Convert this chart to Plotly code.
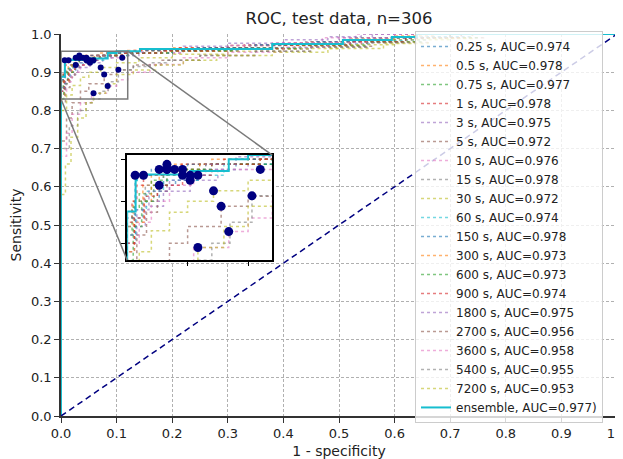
import plotly.graph_objects as go

# ---------------- data ----------------
series_labels = ["0.25 s", "0.5 s", "0.75 s", "1 s", "3 s", "5 s", "10 s", "15 s", "30 s", "60 s",
                 "150 s", "300 s", "600 s", "900 s", "1800 s", "2700 s", "3600 s", "5400 s", "7200 s"]
series_auc = ["0.974", "0.978", "0.977", "0.978", "0.975", "0.972", "0.976", "0.978", "0.972", "0.974",
              "0.978", "0.973", "0.973", "0.974", "0.975", "0.956", "0.958", "0.955", "0.953"]
ensemble_label = "ensemble, AUC=0.977)"

fpr_s0 = [0, 0, 0.007, 0.013, 0.0265, 0.04, 0.06, 0.09, 0.13, 0.2, 0.32, 0.45, 0.56, 0.66, 0.74, 1]
tpr_s0 = [0, 0.85, 0.88, 0.9, 0.919, 0.925, 0.938, 0.944, 0.95, 0.957, 0.964, 0.974, 0.984, 0.993, 1.0, 1]
fpr_s1 = [0, 0, 0.005, 0.013, 0.02, 0.0329, 0.07, 0.12, 0.2, 0.3, 0.42, 0.52, 0.6, 0.67, 1]
tpr_s1 = [0, 0.87, 0.9, 0.919, 0.931, 0.944, 0.95, 0.957, 0.964, 0.97, 0.977, 0.987, 0.995, 1.0, 1]
fpr_s2 = [0, 0, 0.004, 0.01, 0.02, 0.03, 0.0392, 0.065, 0.1, 0.16, 0.26, 0.38, 0.5, 0.6, 0.7, 1]
tpr_s2 = [0, 0.86, 0.893, 0.909, 0.925, 0.931, 0.938, 0.944, 0.95, 0.957, 0.964, 0.971, 0.98, 0.99, 1.0, 1]
fpr_s3 = [0, 0, 0.004, 0.008, 0.0135, 0.03, 0.045, 0.08, 0.13, 0.21, 0.33, 0.45, 0.55, 0.65, 1]
tpr_s3 = [0, 0.875, 0.9, 0.919, 0.931, 0.938, 0.944, 0.95, 0.957, 0.964, 0.971, 0.98, 0.99, 1.0, 1]
fpr_s4 = [0, 0, 0.006, 0.015, 0.03, 0.0521, 0.075, 0.1, 0.14, 0.22, 0.3, 0.4, 0.5, 0.56, 1]
tpr_s4 = [0, 0.84, 0.87, 0.894, 0.912, 0.925, 0.938, 0.944, 0.95, 0.96, 0.97, 0.977, 0.99, 1.0, 1]
fpr_s5 = [0, 0, 0.008, 0.016, 0.025, 0.0329, 0.06, 0.11, 0.2, 0.32, 0.45, 0.56, 0.66, 0.76, 1]
tpr_s5 = [0, 0.82, 0.86, 0.887, 0.912, 0.938, 0.944, 0.95, 0.955, 0.961, 0.968, 0.978, 0.99, 1.0, 1]
fpr_s6 = [0, 0, 0.01, 0.02, 0.035, 0.055, 0.07, 0.12, 0.22, 0.3, 0.38, 0.47, 0.53, 1]
tpr_s6 = [0, 0.85, 0.875, 0.9, 0.919, 0.931, 0.938, 0.95, 0.96, 0.97, 0.977, 0.99, 1.0, 1]
fpr_s7 = [0, 0, 0.006, 0.015, 0.03, 0.0458, 0.07, 0.1, 0.15, 0.24, 0.34, 0.44, 0.53, 0.62, 1]
tpr_s7 = [0, 0.87, 0.9, 0.919, 0.931, 0.938, 0.944, 0.95, 0.957, 0.964, 0.971, 0.98, 0.99, 1.0, 1]
fpr_s8 = [0, 0, 0.01, 0.02, 0.035, 0.05, 0.0714, 0.1, 0.14, 0.2, 0.3, 0.4, 0.5, 0.6, 0.7, 1]
tpr_s8 = [0, 0.8, 0.84, 0.865, 0.887, 0.9, 0.9125, 0.925, 0.938, 0.947, 0.955, 0.962, 0.972, 0.985, 1.0, 1]
fpr_s9 = [0, 0, 0.007, 0.016, 0.03, 0.0585, 0.08, 0.12, 0.2, 0.3, 0.42, 0.52, 0.62, 0.72, 1]
tpr_s9 = [0, 0.86, 0.89, 0.912, 0.925, 0.931, 0.944, 0.95, 0.957, 0.964, 0.972, 0.982, 0.992, 1.0, 1]
fpr_s10 = [0, 0, 0.0066, 0.02, 0.05, 0.09, 0.15, 0.24, 0.35, 0.46, 0.56, 0.64, 1]
tpr_s10 = [0, 0.88, 0.931, 0.938, 0.944, 0.95, 0.957, 0.964, 0.972, 0.98, 0.99, 1.0, 1]
fpr_s11 = [0, 0, 0.006, 0.014, 0.02, 0.0265, 0.06, 0.11, 0.19, 0.3, 0.42, 0.54, 0.64, 0.74, 1]
tpr_s11 = [0, 0.84, 0.875, 0.9, 0.919, 0.938, 0.944, 0.95, 0.955, 0.962, 0.97, 0.98, 0.99, 1.0, 1]
fpr_s12 = [0, 0, 0.005, 0.012, 0.022, 0.0329, 0.07, 0.12, 0.2, 0.31, 0.43, 0.55, 0.65, 0.75, 1]
tpr_s12 = [0, 0.83, 0.87, 0.9, 0.919, 0.938, 0.944, 0.95, 0.956, 0.962, 0.97, 0.98, 0.99, 1.0, 1]
fpr_s13 = [0, 0, 0.006, 0.014, 0.025, 0.0458, 0.07, 0.11, 0.18, 0.28, 0.4, 0.52, 0.62, 0.72, 1]
tpr_s13 = [0, 0.85, 0.88, 0.906, 0.919, 0.931, 0.944, 0.95, 0.956, 0.963, 0.971, 0.98, 0.99, 1.0, 1]
fpr_s14 = [0, 0, 0.008, 0.018, 0.035, 0.0521, 0.065, 0.09, 0.15, 0.22, 0.3, 0.4, 0.48, 0.54, 1]
tpr_s14 = [0, 0.86, 0.89, 0.912, 0.925, 0.931, 0.944, 0.953, 0.96, 0.968, 0.976, 0.985, 0.993, 1.0, 1]
fpr_s15 = [0, 0, 0.01, 0.02, 0.035, 0.05, 0.0777, 0.1, 0.13, 0.18, 0.25, 0.35, 0.45, 0.55, 0.62, 0.7, 1]
tpr_s15 = [0, 0.72, 0.78, 0.82, 0.85, 0.87, 0.894, 0.906, 0.919, 0.931, 0.944, 0.955, 0.965, 0.978, 0.99, 1.0, 1]
fpr_s16 = [0, 0, 0.01, 0.02, 0.035, 0.055, 0.084, 0.1, 0.12, 0.16, 0.22, 0.3, 0.4, 0.48, 0.55, 0.6, 1]
tpr_s16 = [0, 0.68, 0.74, 0.79, 0.82, 0.845, 0.864, 0.88, 0.9, 0.92, 0.938, 0.952, 0.965, 0.978, 0.99, 1.0, 1]
fpr_s17 = [0, 0, 0.015, 0.03, 0.045, 0.058, 0.07, 0.085, 0.1032, 0.13, 0.16, 0.19, 0.25, 0.35, 0.45, 0.55, 0.63, 0.7, 1]
tpr_s17 = [0, 0.7, 0.76, 0.8, 0.82, 0.83, 0.85, 0.875, 0.9065, 0.915, 0.925, 0.931, 0.944, 0.955, 0.966, 0.978, 0.99, 1.0, 1]
fpr_s18 = [0, 0, 0.008, 0.018, 0.03, 0.045, 0.0585, 0.08, 0.1, 0.13, 0.17, 0.22, 0.28, 0.38, 0.48, 0.58, 0.66, 0.74, 1]
tpr_s18 = [0, 0.58, 0.66, 0.73, 0.78, 0.82, 0.845, 0.87, 0.894, 0.906, 0.919, 0.931, 0.944, 0.952, 0.962, 0.975, 0.988, 1.0, 1]
fpr_ens = [0, 0, 0.007, 0.008, 0.052, 0.084, 0.1, 0.142, 0.38, 0.507, 0.595, 0.64, 1]
tpr_ens = [0, 0.888, 0.925, 0.932, 0.936, 0.95, 0.955, 0.961, 0.974, 0.984, 0.992, 1.0, 1]

# operating points (navy dots)
op_fpr = [0.0265, 0.0329, 0.0392, 0.0135, 0.0521, 0.0329, 0.1101, 0.0458, 0.0714, 0.0585,
          0.0066, 0.0265, 0.0329, 0.0458, 0.0521, 0.0777, 0.084, 0.1032, 0.0585]
op_tpr = [0.919, 0.944, 0.938, 0.931, 0.925, 0.938, 0.938, 0.938, 0.9125, 0.931,
          0.931, 0.938, 0.938, 0.931, 0.931, 0.894, 0.864, 0.9065, 0.845]

chance_x = [0, 1]
chance_y = [0, 1]

main_ticks = [0.0, 0.1, 0.2, 0.3, 0.4, 0.5, 0.6, 0.7, 0.8, 0.9, 1.0]
zoom_x_range = [0.0, 0.12]
zoom_y_range = [0.83, 0.955]
inset_x_dom = [0.119, 0.380]
inset_y_dom = [0.408, 0.683]

curves = [(fpr_s0, tpr_s0), (fpr_s1, tpr_s1), (fpr_s2, tpr_s2), (fpr_s3, tpr_s3), (fpr_s4, tpr_s4),
          (fpr_s5, tpr_s5), (fpr_s6, tpr_s6), (fpr_s7, tpr_s7), (fpr_s8, tpr_s8), (fpr_s9, tpr_s9),
          (fpr_s10, tpr_s10), (fpr_s11, tpr_s11), (fpr_s12, tpr_s12), (fpr_s13, tpr_s13),
          (fpr_s14, tpr_s14), (fpr_s15, tpr_s15), (fpr_s16, tpr_s16), (fpr_s17, tpr_s17),
          (fpr_s18, tpr_s18)]

tab10 = ["#1f77b4", "#ff7f0e", "#2ca02c", "#d62728", "#9467bd",
         "#8c564b", "#e377c2", "#7f7f7f", "#bcbd22", "#17becf"]

fig = go.Figure()
FONT = "DejaVu Sans"

# main curves
for i, (fx, ty) in enumerate(curves):
    fig.add_trace(go.Scatter(x=fx, y=ty, mode="lines", line_shape="hv",
                             line=dict(color=tab10[i % 10], width=1.5, dash="dot"),
                             opacity=0.6,
                             name=f"{series_labels[i]}, AUC={series_auc[i]}",
                             xaxis="x", yaxis="y"))
fig.add_trace(go.Scatter(x=fpr_ens, y=tpr_ens, mode="lines", line_shape="hv",
                         line=dict(color="#17becf", width=2), name=ensemble_label,
                         xaxis="x", yaxis="y"))
fig.add_trace(go.Scatter(x=op_fpr, y=op_tpr, mode="markers",
                         marker=dict(color="#000080", size=6), showlegend=False,
                         xaxis="x", yaxis="y"))
fig.add_trace(go.Scatter(x=chance_x, y=chance_y, mode="lines",
                         line=dict(color="#000080", width=1.5, dash="6px,4px"),
                         showlegend=False, xaxis="x", yaxis="y"))

# inset curves
for i, (fx, ty) in enumerate(curves):
    fig.add_trace(go.Scatter(x=fx, y=ty, mode="lines", line_shape="hv",
                             line=dict(color=tab10[i % 10], width=1.5, dash="dot"),
                             opacity=0.6, showlegend=False,
                             xaxis="x2", yaxis="y2"))
fig.add_trace(go.Scatter(x=fpr_ens, y=tpr_ens, mode="lines", line_shape="hv",
                         line=dict(color="#17becf", width=2), showlegend=False,
                         xaxis="x2", yaxis="y2"))
fig.add_trace(go.Scatter(x=op_fpr, y=op_tpr, mode="markers",
                         marker=dict(color="#000080", size=9), showlegend=False,
                         xaxis="x2", yaxis="y2"))

shapes = [
    # white background of inset
    dict(type="rect", xref="x2 domain", yref="y2 domain", x0=0, x1=1, y0=0, y1=1,
         fillcolor="white", line=dict(width=0), layer="below"),
    # zoom rectangle on main axes
    dict(type="rect", xref="x", yref="y", x0=zoom_x_range[0], x1=zoom_x_range[1],
         y0=zoom_y_range[0], y1=zoom_y_range[1], line=dict(color="#7a7a7a", width=1.5)),
    # connector lines
    dict(type="line", xref="x", yref="y", x0=zoom_x_range[1], y0=zoom_y_range[1],
         x1=inset_x_dom[1], y1=inset_y_dom[1], line=dict(color="#7a7a7a", width=1.5)),
    dict(type="line", xref="x", yref="y", x0=zoom_x_range[0], y0=zoom_y_range[0],
         x1=inset_x_dom[0], y1=inset_y_dom[0], line=dict(color="#7a7a7a", width=1.5)),
]

fig.update_layout(
    width=615, height=451,
    margin=dict(l=53, r=6, t=26, b=43, autoexpand=False),
    paper_bgcolor="white", plot_bgcolor="white",
    font=dict(family=FONT, size=13, color="#222"),
    title=dict(text="ROC, test data, n=306", xref="paper", x=0.5, xanchor="center",
               y=0.978, yanchor="middle", font=dict(size=16.5, color="#222")),
    showlegend=True,
    legend=dict(x=0.6367, xanchor="left", y=1.008, yanchor="top", maxheight=440,
                entrywidth=158, entrywidthmode="pixels",
                bgcolor="rgba(255,255,255,0.8)", bordercolor="#cccccc", borderwidth=1,
                font=dict(size=12, color="#222"), tracegroupgap=0),
    xaxis=dict(domain=[0, 1], range=[0, 1], tickvals=main_ticks, automargin=False,
               ticktext=[f"{v:.1f}" for v in main_ticks], ticklabeloverflow="allow",
               showgrid=True, gridcolor="#b0b0b0", griddash="3px,2px", gridwidth=0.8,
               zeroline=False, showline=True, linecolor="#333", linewidth=1.5,
               ticks="outside", ticklen=5, tickcolor="#333",
               title=dict(text="1 - specificity", font=dict(size=14), standoff=7)),
    yaxis=dict(domain=[0, 1], range=[0, 1], tickvals=main_ticks, automargin=False,
               ticktext=[f"{v:.1f}" for v in main_ticks], ticklabeloverflow="allow",
               showgrid=True, gridcolor="#b0b0b0", griddash="3px,2px", gridwidth=0.8,
               zeroline=False, showline=True, linecolor="#333", linewidth=1.5,
               ticks="outside", ticklen=5, tickcolor="#333",
               title=dict(text="Sensitivity", font=dict(size=14), standoff=12)),
    xaxis2=dict(domain=inset_x_dom, range=zoom_x_range, anchor="y2", automargin=False,
                tickvals=[0.05, 0.1], showticklabels=False, ticks="outside", ticklen=4,
                showgrid=False, zeroline=False, showline=True, mirror=True,
                linecolor="black", linewidth=1.5, tickcolor="black"),
    yaxis2=dict(domain=inset_y_dom, range=zoom_y_range, anchor="x2", automargin=False,
                tickvals=[0.85, 0.9, 0.95], showticklabels=False, ticks="outside", ticklen=4,
                showgrid=False, zeroline=False, showline=True, mirror=True,
                linecolor="black", linewidth=1.5, tickcolor="black"),
    shapes=shapes,
)

fig.write_html("out.html")
